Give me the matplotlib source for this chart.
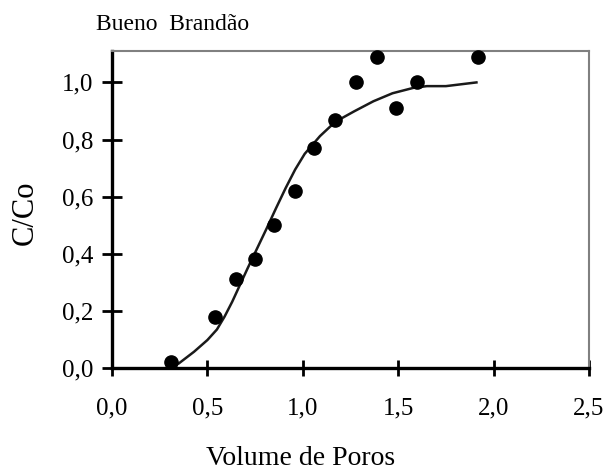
import matplotlib.pyplot as plt
import numpy as np

# measured points (Volume de Poros, C/Co)
pore_vol = [0.31, 0.54, 0.65, 0.75, 0.85, 0.96, 1.06, 1.17, 1.28, 1.39, 1.49, 1.60, 1.92]
conc = [0.02, 0.18, 0.31, 0.38, 0.50, 0.62, 0.77, 0.87, 1.00, 1.09, 0.91, 1.00, 1.09]

# fitted curve
fit_x = [0.35, 0.43, 0.50, 0.55, 0.59, 0.63, 0.67, 0.71, 0.76, 0.81, 0.86, 0.91,
         0.96, 1.01, 1.09, 1.17, 1.27, 1.37, 1.47, 1.58, 1.65, 1.75, 1.91]
fit_y = [0.016, 0.057, 0.098, 0.135, 0.18, 0.232, 0.29, 0.348, 0.418, 0.488, 0.56, 0.63,
         0.695, 0.75, 0.812, 0.862, 0.899, 0.934, 0.962, 0.981, 0.987, 0.987, 1.0]

xticks = [0.0, 0.5, 1.0, 1.5, 2.0, 2.5]
yticks = [0.0, 0.2, 0.4, 0.6, 0.8, 1.0]

plt.rcParams['font.family'] = ['Liberation Serif', 'DejaVu Serif']

fig = plt.figure(figsize=(6.1, 4.74), dpi=100)
ax = fig.add_axes([0.1836, 0.2236, 0.782, 0.6688])

ax.plot(fit_x, fit_y, color="#1a1a1a", lw=1.8, zorder=2)
ax.plot(pore_vol, conc, 'o', color="black", markersize=9.5, clip_on=False, zorder=3)

ax.set_xlim(0, 2.5)
ax.set_ylim(0, 1.11)
ax.set_xticks(xticks)
ax.set_yticks(yticks)
ax.set_xticklabels([("%.1f" % v).replace(".", ",") for v in xticks])
ax.set_yticklabels([("%.1f" % v).replace(".", ",") for v in yticks])

ax.tick_params(axis='x', direction='inout', length=12, width=2, pad=15, labelsize=18)
ax.tick_params(axis='y', direction='inout', length=14, width=2, pad=6.5, labelsize=18)

for s in ['left', 'bottom']:
    ax.spines[s].set_linewidth(2.4)
    ax.spines[s].set_color("black")
for s in ['top', 'right']:
    ax.spines[s].set_linewidth(1.5)
    ax.spines[s].set_color("#808080")

ax.set_xlabel("Volume de Poros", fontsize=20, va='center')
ax.xaxis.set_label_coords(0.396, -0.285)
ax.set_ylabel("C/Co", fontsize=22, va='center')
ax.yaxis.set_label_coords(-0.182, 0.489)

fig.text(96 / 610, 1 - 25 / 474, "Bueno  Brandão", fontsize=17, ha='left', va='center')

plt.savefig("out.png", dpi=100)
